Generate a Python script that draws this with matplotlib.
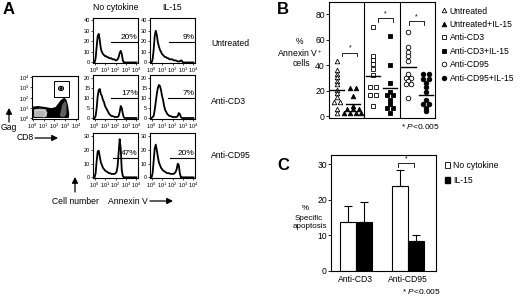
import numpy as np
import matplotlib
matplotlib.use('Agg')
import matplotlib.pyplot as plt
from matplotlib.lines import Line2D
from matplotlib.patches import Rectangle, Ellipse, Patch

plt.rcParams['font.family'] = ['Liberation Sans', 'DejaVu Sans']
plt.rcParams['mathtext.fontset'] = 'custom'
plt.rcParams['mathtext.rm'] = 'Liberation Sans'
plt.rcParams['mathtext.it'] = 'Liberation Sans:italic'
plt.rcParams['axes.linewidth'] = 0.8

W, H = 520, 297

# ---------------- panel A data (Annexin V histograms, log10 grid 0..4) ----------------
log_grid = np.linspace(0, 4, 41)
hist_untr_none = [0, 4, 15, 25, 27, 21, 13, 10, 8, 7, 6, 6, 5, 5, 4, 4, 4, 3, 3, 3,
                  2, 2, 3, 5, 9, 11, 8, 2, 0] + [0] * 12
hist_untr_il15 = [0, 3, 12, 25, 30, 26, 19, 15, 12, 10, 8, 7, 6, 5, 5, 4, 4, 3, 3, 3,
                  3, 2, 2, 2, 1.5, 1, 1, 1, 2, 1.5, 0] + [0] * 10
hist_cd3_none = [0, 1, 5, 11, 14, 14.5, 12, 11, 9, 8, 6, 5, 4, 3, 2, 1.5, 1, 1, 0.8, 0.5,
                 0.5, 0.5, 0.5, 1, 3, 6, 5, 2, 0.3, 0] + [0] * 11
hist_cd3_il15 = [0, 0.5, 1, 4, 8, 12, 15, 16.5, 16, 14, 11, 9, 6, 4, 3, 2, 1.5, 1, 1, 0.8,
                 0.5, 0.5, 0.5, 0.5, 0.5, 1, 2.5, 2, 0.5, 0] + [0] * 11
hist_cd95_none = [0, 3, 12, 19, 19.5, 15, 11, 9, 7, 6, 5, 4.5, 4, 3.5, 3, 3, 2.5, 2.5, 2.5, 2.5,
                  3, 4, 8, 18, 28, 21, 5, 1, 0] + [0] * 12
hist_cd95_il15 = [0, 3, 12, 21, 24, 20, 15, 11, 9, 7, 6, 5, 4.5, 4, 3.5, 3, 3, 3, 2.5, 2.5,
                  2.5, 2.5, 3, 4, 6, 10, 9, 3, 0] + [0] * 12

row_names = ['Untreated', 'Anti-CD3', 'Anti-CD95']
col_names = ['No cytokine', 'IL-15']
row_ticks = [[0, 10, 20, 30, 40], [0, 5, 10, 15, 20], [0, 10, 20, 30]]
row_ymax = [42, 21.5, 32.5]
gate_level = [19, 10, 14]
gate_start = [[1.6, 1.65], [1.6, 1.6], [1.8, 1.75]]
gate_pct = [['20%', '9%'], ['17%', '7%'], ['47%', '20%']]

# dot plot outlines (log10 CD8, log10 Gag)
blob_x = [0.05, 0.05, 0.5, 1.2, 1.7, 2.1, 2.35, 2.6, 2.9, 3.1, 3.25, 3.35, 3.3]
blob_y = [0.05, 1.15, 1.2, 1.1, 1.0, 1.1, 1.45, 1.8, 2.0, 1.8, 1.2, 0.4, 0.05]
grey_x = [0.15, 0.15, 0.7, 1.2, 1.35, 1.3, 1.1]
grey_y = [0.15, 0.9, 0.95, 0.9, 0.6, 0.2, 0.12]
bump_x = [2.5, 2.7, 2.95, 3.1, 3.1, 2.9, 2.6]
bump_y = [0.3, 1.3, 1.7, 1.4, 0.4, 0.15, 0.15]

# ---------------- panel B data (% Annexin V+ cells) ----------------
untreated = [43, 36, 33.5, 31, 28, 25.5, 21, 18, 15, 11.5, 11.5, 5.5, 2.5]
untreated_il15 = [22, 22, 16, 8, 5.5, 5.5, 5.5, 3, 3, 3, 3]
anti_cd3 = [70, 47.5, 44.5, 41, 37, 32.5, 23, 23, 16.5, 16.5, 8.5]
anti_cd3_il15 = [63, 40.5, 26, 19.5, 16.5, 16.5, 13, 10, 7, 7, 2.5]
anti_cd95 = [66, 54.5, 50.5, 47, 43, 33, 30, 30, 27.5, 25, 25, 14.5]
anti_cd95_il15 = [33, 33, 29.5, 29.5, 26, 23, 19.5, 13, 10, 10, 7, 4]
b_lines = [20.5, 10, 31.5, 22, 39, 17]
b_labels = ['Untreated', 'Untreated+IL-15', 'Anti-CD3', 'Anti-CD3+IL-15',
            'Anti-CD95', 'Anti-CD95+IL-15']
b_markers = ['^', '^', 's', 's', 'o', 'o']
b_filled = [False, True, False, True, False, True]
b_pos = [0.45, 1.35, 2.5, 3.45, 4.5, 5.5]
b_sig = [(0.75, 1.6, 50), (2.8, 3.6, 77), (4.55, 5.35, 74.5)]

# ---------------- panel C data (% specific apoptosis) ----------------
c_groups = ['Anti-CD3', 'Anti-CD95']
c_none = [13.8, 24]
c_none_err = [4.5, 4.4]
c_il15 = [13.8, 8.4]
c_il15_err = [5.5, 1.8]


def fx(px):
    return px / W


def fy(py):
    return 1 - py / H


def add_ax(left, top, w, h):
    return fig.add_axes([fx(left), fy(top + h), w / W, h / H])


def ftext(px, py, s, **kw):
    kw.setdefault('va', 'center')
    kw.setdefault('fontsize', 6.2)
    fig.text(fx(px), fy(py), s, **kw)


fig = plt.figure(figsize=(W / 100, H / 100), dpi=100)

# ---- panel A
hists = [[hist_untr_none, hist_untr_il15],
         [hist_cd3_none, hist_cd3_il15],
         [hist_cd95_none, hist_cd95_il15]]
col_left = [93, 150]
row_top = [18, 75, 133]
row_h = [45, 44, 45]
log_labels = ['$10^0$', '$10^1$', '$10^2$', '$10^3$', '$10^4$']
for r in range(3):
    for c in range(2):
        ax = add_ax(col_left[c], row_top[r], 45, row_h[r])
        ax.plot(log_grid, hists[r][c], color='k', lw=1.3)
        ax.plot([gate_start[r][c], 4.15], [gate_level[r]] * 2, color='k', lw=0.8)
        ax.text(4.12, gate_level[r] + row_ymax[r] * 0.03, gate_pct[r][c],
                ha='right', va='bottom', fontsize=6)
        ax.set_xlim(-0.15, 4.15)
        ax.set_ylim(-0.5, row_ymax[r])
        ax.set_xticks(range(5))
        ax.set_xticklabels(log_labels)
        ax.set_yticks(row_ticks[r])
        ax.tick_params(labelsize=4, length=1.5, width=0.5, pad=0.5)

# dot plot CD8 vs Gag
ax_d = add_ax(32, 76, 46, 43)
ax_d.fill(blob_x, blob_y, color='k', lw=0)
ax_d.fill(grey_x, grey_y, color='#b5b5b5', lw=0)
ax_d.fill(bump_x, bump_y, color='#606060', lw=0)
ax_d.plot(np.array(grey_x) * 0.8 + 0.1, np.array(grey_y) * 0.8 + 0.05, color='w', lw=0.3)
ax_d.add_patch(Rectangle((1.95, 2.05), 1.4, 1.55, fill=False, ec='k', lw=0.7))
ax_d.add_patch(Ellipse((2.6, 2.9), 0.45, 0.4, fill=False, ec='k', lw=0.8))
ax_d.add_patch(Ellipse((2.6, 2.9), 0.2, 0.18, fc='k', ec='k', lw=0.5))
ax_d.set_xlim(-0.05, 4.15)
ax_d.set_ylim(-0.05, 4.1)
ax_d.set_xticks(range(5))
ax_d.set_xticklabels(log_labels)
ax_d.set_yticks(range(5))
ax_d.set_yticklabels(log_labels)
ax_d.tick_params(labelsize=4, length=1.5, width=0.5, pad=0.5)

ftext(3, 9, 'A', fontsize=12, fontweight='bold', ha='left')
ftext(116, 7, col_names[0], ha='center')
ftext(172, 7, col_names[1], ha='center')
for name, py in zip(row_names, [43, 101, 155]):
    ftext(211, py, name, ha='left')
ftext(9, 128, 'Gag', ha='center')
ftext(17, 138, 'CD8', ha='left')
ftext(52, 201, 'Cell number', ha='left')
ftext(108, 201, 'Annexin V', ha='left')
arrow = dict(arrowstyle='-|>,head_length=0.35,head_width=0.18', color='k', lw=0.9,
             shrinkA=0, shrinkB=0)
for start, end in [((9, 122), (9, 108)), ((35, 138), (58, 138)),
                   ((75, 192), (75, 177)), ((150, 201), (173, 201))]:
    ax_d.annotate('', xy=(fx(end[0]), fy(end[1])), xytext=(fx(start[0]), fy(start[1])),
                  xycoords='figure fraction', textcoords='figure fraction',
                  arrowprops=arrow, annotation_clip=False)

# ---- panel B
ax_b = add_ax(329, 2, 106, 116)
groups = [untreated, untreated_il15, anti_cd3, anti_cd3_il15, anti_cd95, anti_cd95_il15]
for vals, x0, m, filled, mline in zip(groups, b_pos, b_markers, b_filled, b_lines):
    xs = []
    for i, v in enumerate(vals):
        n = vals.count(v)
        k = vals[:i].count(v)
        xs.append(x0 + (k - (n - 1) / 2) * 0.32)
    ax_b.plot(xs, vals, ls='none', marker=m, ms=3.3, mew=0.6, mec='k',
              mfc='k' if filled else 'w')
    ax_b.plot([x0 - 0.4, x0 + 0.4], [mline, mline], color='k', lw=1.0)
for xd in [2, 4]:
    ax_b.axvline(xd, color='k', lw=0.8)
for x1, x2, yb in b_sig:
    ax_b.plot([x1, x1, x2, x2], [yb - 3, yb, yb, yb - 3], color='k', lw=0.6)
    ax_b.text((x1 + x2) / 2, yb + 0.5, '*', ha='center', va='bottom', fontsize=5)
ax_b.set_xlim(0, 6)
ax_b.set_ylim(-1.2, 89.5)
ax_b.set_xticks([])
ax_b.set_yticks([0, 20, 40, 60, 80])
ax_b.tick_params(labelsize=6.2, length=2, width=0.6, pad=1)

ftext(277, 9, 'B', fontsize=12, fontweight='bold', ha='left')
ftext(300, 42, '%', ha='center')
ftext(300, 53, 'Annexin V$^+$', ha='center')
ftext(301, 64, 'cells', ha='center')
ftext(401, 127, '* $P$<0.005', ha='left', fontsize=6)

b_handles = [Line2D([], [], ls='none', marker=m, ms=3.3, mew=0.6, mec='k',
                    mfc='k' if f else 'w') for m, f in zip(b_markers, b_filled)]
fig.legend(b_handles, b_labels, loc='upper left', bbox_to_anchor=(fx(441), fy(6.5)),
           frameon=False, fontsize=6.2, handlelength=0.7, handletextpad=0.3,
           labelspacing=0.52, borderpad=0, borderaxespad=0)

# ---- panel C
ax_c = add_ax(331, 155, 105, 116)
xc = np.arange(len(c_groups))
bw = 0.31
ax_c.bar(xc - bw / 2, c_none, bw, color='w', edgecolor='k', lw=0.8)
ax_c.bar(xc + bw / 2, c_il15, bw, color='k', edgecolor='k', lw=0.8)
ax_c.errorbar(xc - bw / 2, c_none, yerr=[np.zeros(2), c_none_err], fmt='none',
              ecolor='k', elinewidth=0.8, capsize=3, capthick=0.8)
ax_c.errorbar(xc + bw / 2, c_il15, yerr=[np.zeros(2), c_il15_err], fmt='none',
              ecolor='k', elinewidth=0.8, capsize=3, capthick=0.8)
ax_c.plot([0.81, 0.81, 1.12, 1.12], [29.3, 30.3, 30.3, 29.3], color='k', lw=0.6)
ax_c.text(0.965, 30.4, '*', ha='center', va='bottom', fontsize=5)
ax_c.set_xlim(-0.48, 1.54)
ax_c.set_ylim(0, 32.6)
ax_c.set_xticks(xc)
ax_c.set_xticklabels(c_groups)
ax_c.set_yticks([0, 10, 20, 30])
ax_c.tick_params(labelsize=6.2, length=2, width=0.6, pad=1)
ax_c.tick_params(axis='x', length=0, pad=3)

ftext(277, 165, 'C', fontsize=12, fontweight='bold', ha='left')
ftext(305, 209, '%', ha='center', fontsize=5.8)
ftext(309, 218, 'Specific', ha='center', fontsize=5.8)
ftext(310, 227, 'apoptosis', ha='center', fontsize=5.8)
ftext(402, 291, '* $P$<0.005', ha='left', fontsize=6)

c_handles = [Patch(facecolor='w', edgecolor='k', lw=0.6), Patch(facecolor='k', edgecolor='k')]
fig.legend(c_handles, ['No cytokine', 'IL-15'], loc='upper left',
           bbox_to_anchor=(fx(445), fy(161)), frameon=False, fontsize=6.2,
           handlelength=0.6, handleheight=0.6, handletextpad=0.3, labelspacing=0.7,
           borderpad=0, borderaxespad=0)

fig.savefig('out.png', dpi=100)
